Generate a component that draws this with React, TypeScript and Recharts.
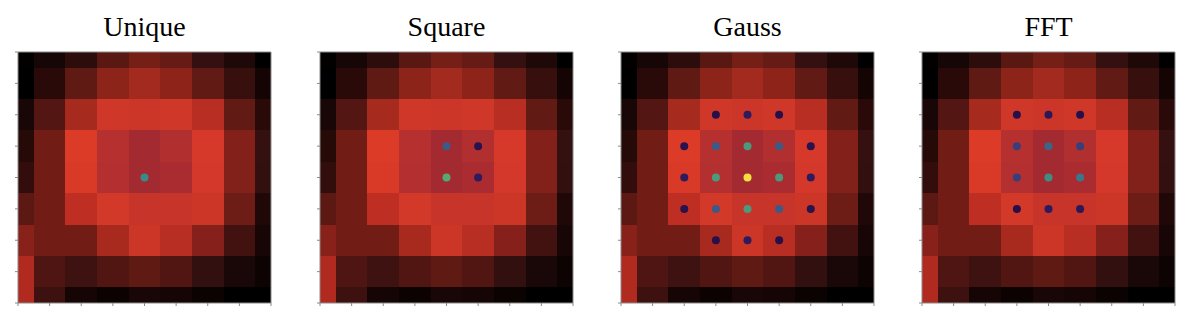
import React from "react";
import { ScatterChart, Scatter, XAxis, YAxis, ReferenceArea } from "recharts";

// Shared background image (9x9 pixels, row 0 at the top).
const IMAGE: string[][] = [
  ["#030000", "#160606", "#2c0d0b", "#5a1812", "#761f16", "#661b14", "#341010", "#1e0808", "#000000"],
  ["#000000", "#2a0a08", "#601a14", "#8c2419", "#a32a1e", "#8e2419", "#621a14", "#370f0d", "#140404"],
  ["#190606", "#541612", "#a72a1e", "#cf3829", "#cc3628", "#cf3829", "#b82e22", "#611a14", "#290a09"],
  ["#250a08", "#711d15", "#db3b27", "#b63030", "#a32a31", "#b22f2f", "#d6392a", "#84201a", "#341010"],
  ["#320d0c", "#711d15", "#d83a27", "#b43030", "#a32a31", "#aa2b30", "#d4382a", "#82201a", "#321010"],
  ["#5c1812", "#711d15", "#bf2e22", "#d23929", "#c6342a", "#c7342a", "#cc3626", "#6d1c16", "#210808"],
  ["#88211a", "#711d15", "#711d15", "#a82a1e", "#cc3626", "#b82e22", "#86201a", "#411210", "#180606"],
  ["#b02a20", "#4e1512", "#3d1210", "#521612", "#5f1a14", "#511612", "#321010", "#1a0707", "#0e0303"],
  ["#b02a20", "#3d1110", "#150505", "#0c0202", "#190606", "#160505", "#0b0202", "#000000", "#000000"],
];

const TICKS = [0, 1, 2, 3, 4, 5, 6, 7, 8];
const TITLES = ["Unique", "Square", "Gauss", "FFT"];

// Kernel weights per panel: x = column, y = row, v = weight (0..1 colour scale).
const uniqueDots = [{ x: 4, y: 4, v: 0.5 }];

const squareDots = [
  { x: 4, y: 3, v: 0.3 },
  { x: 5, y: 3, v: 0.04 },
  { x: 4, y: 4, v: 0.68 },
  { x: 5, y: 4, v: 0.1 },
];

const gaussDots = [
  { x: 3, y: 2, v: 0.02 }, { x: 4, y: 2, v: 0.1 }, { x: 5, y: 2, v: 0.02 },
  { x: 2, y: 3, v: 0.04 }, { x: 3, y: 3, v: 0.3 }, { x: 4, y: 3, v: 0.6 }, { x: 5, y: 3, v: 0.3 }, { x: 6, y: 3, v: 0.04 },
  { x: 2, y: 4, v: 0.1 }, { x: 3, y: 4, v: 0.6 }, { x: 4, y: 4, v: 1.0 }, { x: 5, y: 4, v: 0.6 }, { x: 6, y: 4, v: 0.1 },
  { x: 2, y: 5, v: 0.04 }, { x: 3, y: 5, v: 0.3 }, { x: 4, y: 5, v: 0.6 }, { x: 5, y: 5, v: 0.3 }, { x: 6, y: 5, v: 0.04 },
  { x: 3, y: 6, v: 0.02 }, { x: 4, y: 6, v: 0.1 }, { x: 5, y: 6, v: 0.02 },
];

const fftDots = [
  { x: 3, y: 2, v: 0.02 }, { x: 4, y: 2, v: 0.08 }, { x: 5, y: 2, v: 0.02 },
  { x: 3, y: 3, v: 0.22 }, { x: 4, y: 3, v: 0.35 }, { x: 5, y: 3, v: 0.22 },
  { x: 3, y: 4, v: 0.22 }, { x: 4, y: 4, v: 0.52 }, { x: 5, y: 4, v: 0.42 },
  { x: 3, y: 5, v: 0.02 }, { x: 4, y: 5, v: 0.1 }, { x: 5, y: 5, v: 0.08 },
];

const PANEL_DOTS = [uniqueDots, squareDots, gaussDots, fftDots];
const PLOT_LEFT = [18, 320, 621, 922];

// Dark-purple → blue → green → yellow scale as it appears on the picture.
const CMAP = [
  [40, 12, 68], [46, 26, 92], [55, 55, 120], [59, 90, 136], [55, 115, 140],
  [58, 138, 135], [74, 154, 124], [90, 170, 112], [140, 195, 80], [200, 215, 55], [245, 224, 64],
];

function colorOf(v: number): string {
  const t = Math.max(0, Math.min(1, v)) * 10;
  const i = Math.min(9, Math.floor(t));
  const f = t - i;
  const a = CMAP[i];
  const b = CMAP[i + 1];
  const c = a.map((ch, k) => Math.round(ch + (b[k] - ch) * f));
  return `rgb(${c[0]},${c[1]},${c[2]})`;
}

const AXIS_GREY = "#8a8a8a";
const W = 272;
const H = 318;

function Panel({ dots, left }: { dots: { x: number; y: number; v: number }[]; left: number }) {
  return (
    <div style={{ position: "absolute", left: left - 18, top: 0 }}>
      <ScatterChart width={W} height={H} margin={{ top: 52, right: 1, bottom: 0, left: 0 }}>
        <XAxis
          type="number"
          dataKey="x"
          domain={[0, 8]}
          ticks={TICKS}
          allowDataOverflow
          height={15}
          tickSize={3}
          tickFormatter={() => ""}
          axisLine={false}
          tickLine={{ stroke: AXIS_GREY }}
        />
        <YAxis
          type="number"
          dataKey="y"
          domain={[0, 8]}
          ticks={TICKS}
          reversed
          allowDataOverflow
          width={18}
          tickSize={3}
          tickFormatter={() => ""}
          axisLine={false}
          tickLine={{ stroke: AXIS_GREY }}
        />
        {IMAGE.map((row, r) =>
          row.map((color, c) => (
            <ReferenceArea
              key={`${r}-${c}`}
              x1={Math.max(0, c - 0.5)}
              x2={Math.min(8, c + 0.5)}
              y1={Math.max(0, r - 0.5)}
              y2={Math.min(8, r + 0.5)}
              fill={color}
              fillOpacity={1}
              stroke="none"
              shapeRendering="crispEdges"
              ifOverflow="visible"
            />
          ))
        )}
        <ReferenceArea
          x1={0}
          x2={8}
          y1={0}
          y2={8}
          fill="none"
          stroke={AXIS_GREY}
          strokeWidth={1}
          ifOverflow="visible"
        />
        <Scatter
          data={dots}
          isAnimationActive={false}
          shape={(p: any) => (
            <circle cx={p.cx} cy={p.cy} r={4} fill={colorOf(p.payload.v)} />
          )}
        />
      </ScatterChart>
    </div>
  );
}

export default function App() {
  return (
    <div style={{ position: "absolute", left: 0, top: 0, width: 1199, height: 318, background: "#fff" }}>
      {PANEL_DOTS.map((dots, i) => (
        <Panel key={TITLES[i]} dots={dots} left={PLOT_LEFT[i]} />
      ))}
      <svg width={1199} height={50} style={{ position: "absolute", left: 0, top: 0 }}>
        {TITLES.map((t, i) => (
          <text
            key={t}
            x={PLOT_LEFT[i] + 126.5}
            y={36}
            textAnchor="middle"
            fontFamily="'Liberation Serif', 'DejaVu Serif', serif"
            fontSize={28}
            fill="#000"
          >
            {t}
          </text>
        ))}
      </svg>
    </div>
  );
}
